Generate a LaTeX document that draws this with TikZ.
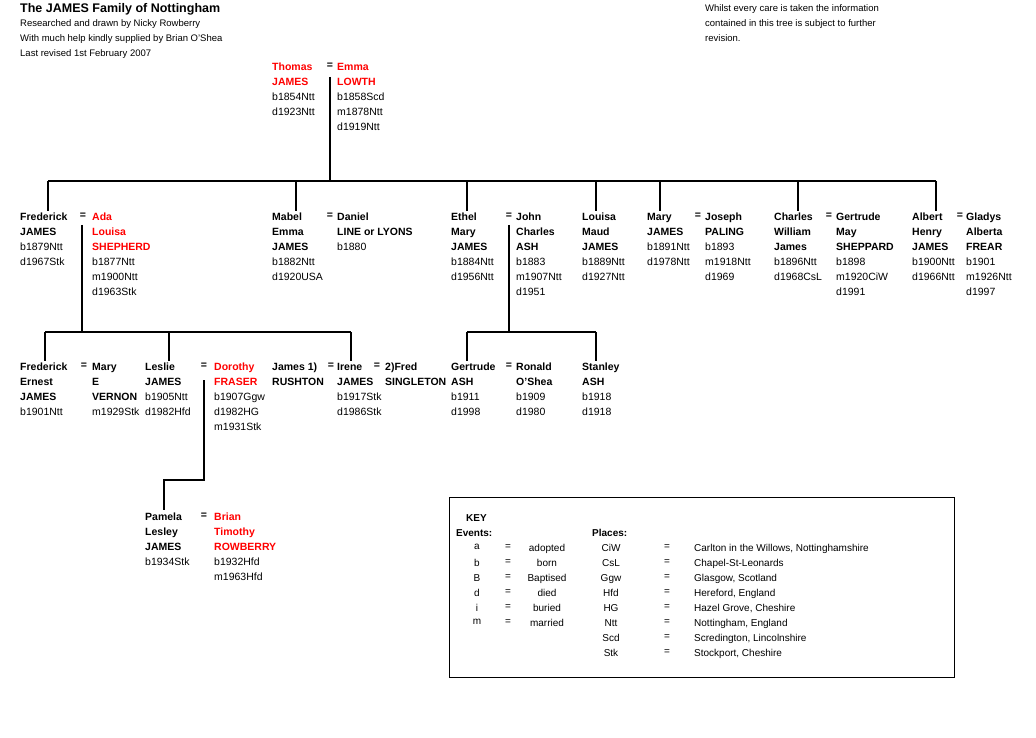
\documentclass[tikz,border=0pt]{standalone}
\usepackage{fontspec}
\setmainfont{Liberation Sans}
\begin{document}
\begin{tikzpicture}[x=1pt,y=-1pt,
 t/.style={anchor=north west,inner sep=0pt,align=left,font=\fontsize{10.5}{15}\selectfont},
 eq/.style={anchor=north,inner sep=0pt,font=\fontsize{10.5}{15}\selectfont\bfseries},
 k/.style={anchor=north,inner sep=0pt,font=\fontsize{10}{15}\selectfont},
 kl/.style={anchor=north west,inner sep=0pt,font=\fontsize{10}{15}\selectfont},
 ln/.style={line width=1.6pt},
 red/.style={text=red}]
\useasboundingbox (0,0) rectangle (1036,738);
\def\R#1{\textcolor{red}{\textbf{#1}}}
\def\B#1{\textbf{#1}}
% header
\node[t,font=\fontsize{12.5}{15}\selectfont\bfseries] (title) at (20,3) {The JAMES Family of Nottingham};
\node[t,font=\fontsize{9.5}{15}\selectfont] (hdr) at (20,19) {Researched and drawn by Nicky Rowberry\\With much help kindly supplied by Brian O'Shea\\Last revised 1st February 2007};
\node[t,font=\fontsize{9.5}{15}\selectfont] (note) at (705,4) {Whilst every care is taken the information\\contained in this tree is subject to further\\revision.};
% generation 0
\node[t] (thomas) at (272,63) {\R{Thomas}\\\R{JAMES}\\b1854Ntt\\d1923Ntt};
\node[eq] (e0) at (330,63) {=};
\node[t] (emma) at (337,63) {\R{Emma}\\\R{LOWTH}\\b1858Scd\\m1878Ntt\\d1919Ntt};
% generation 1
\node[t] (fred) at (20,213) {\B{Frederick}\\\B{JAMES}\\b1879Ntt\\d1967Stk};
\node[eq] (e1) at (83,213) {=};
\node[t] (ada) at (92,213) {\R{Ada}\\\R{Louisa}\\\R{SHEPHERD}\\b1877Ntt\\m1900Ntt\\d1963Stk};
\node[t] (mabel) at (272,213) {\B{Mabel}\\\B{Emma}\\\B{JAMES}\\b1882Ntt\\d1920USA};
\node[eq] (e2) at (330,213) {=};
\node[t] (daniel) at (337,213) {\B{Daniel}\\\B{LINE or LYONS}\\b1880};
\node[t] (ethel) at (451,213) {\B{Ethel}\\\B{Mary}\\\B{JAMES}\\b1884Ntt\\d1956Ntt};
\node[eq] (e3) at (509,213) {=};
\node[t] (john) at (516,213) {\B{John}\\\B{Charles}\\\B{ASH}\\b1883\\m1907Ntt\\d1951};
\node[t] (louisa) at (582,213) {\B{Louisa}\\\B{Maud}\\\B{JAMES}\\b1889Ntt\\d1927Ntt};
\node[t] (mary) at (647,213) {\B{Mary}\\\B{JAMES}\\b1891Ntt\\d1978Ntt};
\node[eq] (e4) at (698,213) {=};
\node[t] (joseph) at (705,213) {\B{Joseph}\\\B{PALING}\\b1893\\m1918Ntt\\d1969};
\node[t] (charles) at (774,213) {\B{Charles}\\\B{William}\\\B{James}\\b1896Ntt\\d1968CsL};
\node[eq] (e5) at (829,213) {=};
\node[t] (gert) at (836,213) {\B{Gertrude}\\\B{May}\\\B{SHEPPARD}\\b1898\\m1920CiW\\d1991};
\node[t] (albert) at (912,213) {\B{Albert}\\\B{Henry}\\\B{JAMES}\\b1900Ntt\\d1966Ntt};
\node[eq] (e6) at (960,213) {=};
\node[t] (gladys) at (966,213) {\B{Gladys}\\\B{Alberta}\\\B{FREAR}\\b1901\\m1926Ntt\\d1997};
% generation 2
\node[t] (fe) at (20,363) {\B{Frederick}\\\B{Ernest}\\\B{JAMES}\\b1901Ntt};
\node[eq] (e7) at (84,363) {=};
\node[t] (marye) at (92,363) {\B{Mary}\\\B{E}\\\B{VERNON}\\m1929Stk};
\node[t] (leslie) at (145,363) {\B{Leslie}\\\B{JAMES}\\b1905Ntt\\d1982Hfd};
\node[eq] (e8) at (204,363) {=};
\node[t] (dorothy) at (214,363) {\R{Dorothy}\\\R{FRASER}\\b1907Ggw\\d1982HG\\m1931Stk};
\node[t] (jr) at (272,363) {\B{James 1)}\\\B{RUSHTON}};
\node[eq] (e9) at (331,363) {=};
\node[t] (irene) at (337,363) {\B{Irene}\\\B{JAMES}\\b1917Stk\\d1986Stk};
\node[eq] (e10) at (377,363) {=};
\node[t] (fs) at (385,363) {\B{2)Fred}\\\B{SINGLETON}};
\node[t] (gash) at (451,363) {\B{Gertrude}\\\B{ASH}\\b1911\\d1998};
\node[eq] (e11) at (509,363) {=};
\node[t] (ronald) at (516,363) {\B{Ronald}\\\B{O'Shea}\\b1909\\d1980};
\node[t] (stanley) at (582,363) {\B{Stanley}\\\B{ASH}\\b1918\\d1918};
% generation 3
\node[t] (pamela) at (145,513) {\B{Pamela}\\\B{Lesley}\\\B{JAMES}\\b1934Stk};
\node[eq] (e12) at (204,513) {=};
\node[t] (brian) at (214,513) {\R{Brian}\\\R{Timothy}\\\R{ROWBERRY}\\b1932Hfd\\m1963Hfd};
% connectors
\coordinate (s0) at (330,77);
\coordinate (h0) at (330,181);
\draw[ln] (s0) -- (h0);
\draw[ln] (48,181) -- (936,181);
\foreach \x in {48,296,467,596,660,798,936} \draw[ln] (\x,181) -- (\x,211);
\draw[ln] (82,225) -- (82,332);
\draw[ln] (45,332) -- (351,332);
\foreach \x in {45,169,351} \draw[ln] (\x,332) -- (\x,361);
\draw[ln] (509,225) -- (509,332);
\draw[ln] (467,332) -- (596,332);
\foreach \x in {467,596} \draw[ln] (\x,332) -- (\x,361);
\draw[ln] (204,380) -- (204,480) -- (164,480) -- (164,510);
% key
\draw[line width=0.8pt] (449,497) rectangle (954,677);
\node[kl,font=\fontsize{10}{15}\selectfont\bfseries] (key) at (466,514) {KEY};
\node[kl,font=\fontsize{10}{15}\selectfont\bfseries] (ev) at (456,529) {Events:};
\node[kl,font=\fontsize{10}{15}\selectfont\bfseries] (pl) at (592,529) {Places:};
\foreach \c/\m [count=\i] in {a/adopted,b/born,B/Baptised,d/died,i/buried,m/married}{
 \node[k] at (477,529+15*\i) {\c};
 \node[k] at (508,529+15*\i) {=};
 \node[k] at (547,529+15*\i) {\m};}
\foreach \c/\m [count=\i] in {CiW/{Carlton in the Willows, Nottinghamshire},CsL/Chapel-St-Leonards,Ggw/{Glasgow, Scotland},Hfd/{Hereford, England},HG/{Hazel Grove, Cheshire},Ntt/{Nottingham, England},Scd/{Scredington, Lincolnshire},Stk/{Stockport, Cheshire}}{
 \node[k] at (611,529+15*\i) {\c};
 \node[k] at (667,529+15*\i) {=};
 \node[kl] at (694,529+15*\i) {\m};}
\end{tikzpicture}
\end{document}
